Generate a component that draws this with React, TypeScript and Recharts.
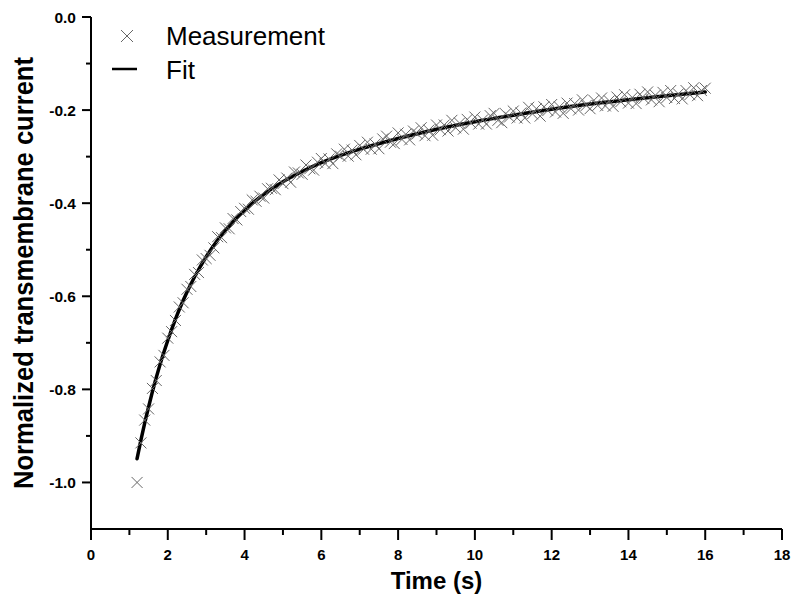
import React from 'react';
import { ComposedChart, Scatter, Line, XAxis, YAxis, Legend } from 'recharts';

const measTime = [
  1.2, 1.3, 1.4, 1.5, 1.6, 1.7, 1.8, 1.9, 2.0, 2.1, 2.2, 2.3, 2.4, 2.5, 2.6, 2.7, 2.8, 2.9, 3.0, 3.1,
  3.2, 3.3, 3.4, 3.5, 3.6, 3.7, 3.8, 3.9, 4.0, 4.1, 4.2, 4.3, 4.4, 4.5, 4.6, 4.7, 4.8, 4.9, 5.0, 5.1,
  5.2, 5.3, 5.4, 5.5, 5.6, 5.7, 5.8, 5.9, 6.0, 6.1, 6.2, 6.3, 6.4, 6.5, 6.6, 6.7, 6.8, 6.9, 7.0, 7.1,
  7.2, 7.3, 7.4, 7.5, 7.6, 7.7, 7.8, 7.9, 8.0, 8.1, 8.2, 8.3, 8.4, 8.5, 8.6, 8.7, 8.8, 8.9, 9.0, 9.1,
  9.2, 9.3, 9.4, 9.5, 9.6, 9.7, 9.8, 9.9, 10.0, 10.1, 10.2, 10.3, 10.4, 10.5, 10.6, 10.7, 10.8, 10.9, 11.0, 11.1,
  11.2, 11.3, 11.4, 11.5, 11.6, 11.7, 11.8, 11.9, 12.0, 12.1, 12.2, 12.3, 12.4, 12.5, 12.6, 12.7, 12.8, 12.9, 13.0, 13.1,
  13.2, 13.3, 13.4, 13.5, 13.6, 13.7, 13.8, 13.9, 14.0, 14.1, 14.2, 14.3, 14.4, 14.5, 14.6, 14.7, 14.8, 14.9, 15.0, 15.1,
  15.2, 15.3, 15.4, 15.5, 15.6, 15.7, 15.8, 15.9, 16.0,
];

const measValue = [
  -1.0, -0.915, -0.866, -0.842, -0.798, -0.781, -0.741, -0.727, -0.69, -0.676, -0.652, -0.623, -0.614, -0.585, -0.579, -0.553, -0.549, -0.522, -0.519, -0.512,
  -0.496, -0.472, -0.474, -0.453, -0.455, -0.433, -0.436, -0.418, -0.411, -0.413, -0.393, -0.396, -0.385, -0.389, -0.369, -0.368, -0.371, -0.35, -0.358, -0.346,
  -0.355, -0.333, -0.335, -0.338, -0.318, -0.326, -0.329, -0.312, -0.304, -0.315, -0.305, -0.315, -0.294, -0.299, -0.284, -0.299, -0.286, -0.296, -0.276, -0.284,
  -0.269, -0.284, -0.273, -0.283, -0.262, -0.256, -0.269, -0.272, -0.249, -0.263, -0.252, -0.264, -0.245, -0.251, -0.238, -0.255, -0.243, -0.254, -0.232, -0.242,
  -0.232, -0.245, -0.222, -0.238, -0.228, -0.241, -0.22, -0.228, -0.215, -0.23, -0.221, -0.23, -0.212, -0.207, -0.222, -0.227, -0.208, -0.215, -0.202, -0.217,
  -0.206, -0.217, -0.194, -0.208, -0.197, -0.213, -0.193, -0.201, -0.188, -0.204, -0.193, -0.207, -0.185, -0.197, -0.186, -0.2, -0.178, -0.19, -0.197, -0.179,
  -0.19, -0.174, -0.191, -0.18, -0.192, -0.172, -0.182, -0.167, -0.185, -0.173, -0.186, -0.166, -0.175, -0.161, -0.178, -0.168, -0.182, -0.162, -0.173, -0.158,
  -0.175, -0.165, -0.176, -0.158, -0.167, -0.152, -0.169, -0.158, -0.153,
];

const fitTime = [1.2, 1.3, 1.4, 1.5, 1.6, 1.8, 2.0, 2.2, 2.4, 2.6, 2.8, 3.0, 3.3, 3.6, 4.0, 4.5, 5.0, 5.5, 6.0, 7.0, 8.0, 9.0, 10.0, 11.0, 12.0, 13.0, 14.0, 15.0, 16.0];
const fitValue = [-0.949, -0.909, -0.872, -0.838, -0.805, -0.746, -0.695, -0.649, -0.609, -0.574, -0.543, -0.515, -0.479, -0.449, -0.415, -0.381, -0.354, -0.332, -0.313, -0.284, -0.261, -0.241, -0.225, -0.211, -0.198, -0.187, -0.178, -0.169, -0.161];

const xTicks = [0, 1, 2, 3, 4, 5, 6, 7, 8, 9, 10, 11, 12, 13, 14, 15, 16, 17, 18];
const yTicks = [0, -0.1, -0.2, -0.3, -0.4, -0.5, -0.6, -0.7, -0.8, -0.9, -1.0];

const seriesNames = ['Measurement', 'Fit'];
const xTitle = 'Time (s)';
const yTitle = 'Normalized transmembrane current';

const measData = measTime.map((t, i) => ({ t, v: measValue[i] }));
const fitData = fitTime.map((t, i) => ({ t, v: fitValue[i] }));

const FONT = '"Liberation Sans", Arial, sans-serif';
const MARK = '#666666';

const Cross = (props: any) => {
  const { cx, cy } = props;
  if (cx == null || cy == null) return null;
  const s = 5.5;
  return (
    <g stroke={MARK} strokeWidth={1}>
      <line x1={cx - s} y1={cy - s} x2={cx + s} y2={cy + s} />
      <line x1={cx - s} y1={cy + s} x2={cx + s} y2={cy - s} />
    </g>
  );
};

const XTick = (props: any) => {
  const { x, y, payload } = props;
  const v = payload.value;
  const major = Math.round(v) % 2 === 0;
  return (
    <g>
      <line x1={x} x2={x} y1={y} y2={y + (major ? 11 : 6)} stroke="#000" strokeWidth={2} />
      {major && (
        <text x={x} y={y + 25} textAnchor="middle" dominantBaseline="central" fontFamily={FONT} fontWeight="bold" fontSize={15} fill="#000">
          {String(v)}
        </text>
      )}
    </g>
  );
};

const YTick = (props: any) => {
  const { x, y, payload } = props;
  const v = payload.value;
  const major = Math.round(Math.abs(v) * 10) % 2 === 0;
  return (
    <g>
      <line x1={x - (major ? 9 : 5)} x2={x} y1={y} y2={y} stroke="#000" strokeWidth={2} />
      {major && (
        <text x={x - 15} y={y} textAnchor="end" dominantBaseline="central" fontFamily={FONT} fontWeight="bold" fontSize={15.5} fill="#000">
          {v.toFixed(1)}
        </text>
      )}
    </g>
  );
};

const YLabel = (props: any) => {
  const vb = props.viewBox || { x: 0, y: 17, width: 91, height: 512 };
  const cx = vb.x + 33;
  const cy = vb.y + vb.height / 2;
  return (
    <text
      x={cx}
      y={cy}
      transform={`rotate(-90, ${cx}, ${cy})`}
      textAnchor="middle"
      fontFamily={FONT}
      fontWeight="bold"
      fontSize={27}
      textLength={432}
      lengthAdjust="spacingAndGlyphs"
      fill="#000"
    >
      {yTitle}
    </text>
  );
};

const LegendContent = () => (
  <svg width={260} height={80} style={{ display: 'block' }}>
    <g stroke={MARK} strokeWidth={1}>
      <line x1={16} y1={12} x2={28} y2={24} />
      <line x1={16} y1={24} x2={28} y2={12} />
    </g>
    <text x={61} y={27} fontFamily={FONT} fontSize={26} fill="#000">{seriesNames[0]}</text>
    <line x1={7} x2={32} y1={51} y2={51} stroke="#000" strokeWidth={2.5} />
    <text x={61} y={61} fontFamily={FONT} fontSize={26} fill="#000">{seriesNames[1]}</text>
  </svg>
);

export default function App() {
  return (
    <div style={{ position: 'absolute', left: 0, top: 0, width: 800, height: 603, background: '#fff' }}>
      <ComposedChart width={800} height={603} margin={{ top: 17, right: 18, bottom: 0, left: 0 }}>
        <XAxis
          dataKey="t"
          type="number"
          domain={[0, 18]}
          ticks={xTicks}
          interval={0}
          allowDataOverflow
          height={74}
          axisLine={{ stroke: '#000', strokeWidth: 2 }}
          tickLine={false}
          tickSize={0}
          tickMargin={0}
          tick={<XTick />}
          label={{ value: xTitle, position: 'insideBottom', offset: 14, fontFamily: FONT, fontWeight: 'bold', fontSize: 24, fill: '#000' }}
        />
        <YAxis
          dataKey="v"
          type="number"
          domain={[-1.1, 0]}
          ticks={yTicks}
          interval={0}
          allowDataOverflow
          width={91}
          axisLine={{ stroke: '#000', strokeWidth: 2 }}
          tickLine={false}
          tickSize={0}
          tickMargin={0}
          tick={<YTick />}
          label={<YLabel />}
        />
        <Legend
          layout="vertical"
          align="center"
          verticalAlign="middle"
          content={<LegendContent />}
          wrapperStyle={{ position: 'absolute', left: 105, top: 18, width: 260, height: 80 }}
        />
        <Scatter name={seriesNames[0]} data={measData} dataKey="v" shape={<Cross />} isAnimationActive={false} />
        <Line
          name={seriesNames[1]}
          data={fitData}
          dataKey="v"
          type="monotone"
          stroke="#000"
          strokeWidth={3.5}
          strokeLinecap="round"
          dot={false}
          activeDot={false}
          isAnimationActive={false}
        />
      </ComposedChart>
    </div>
  );
}
